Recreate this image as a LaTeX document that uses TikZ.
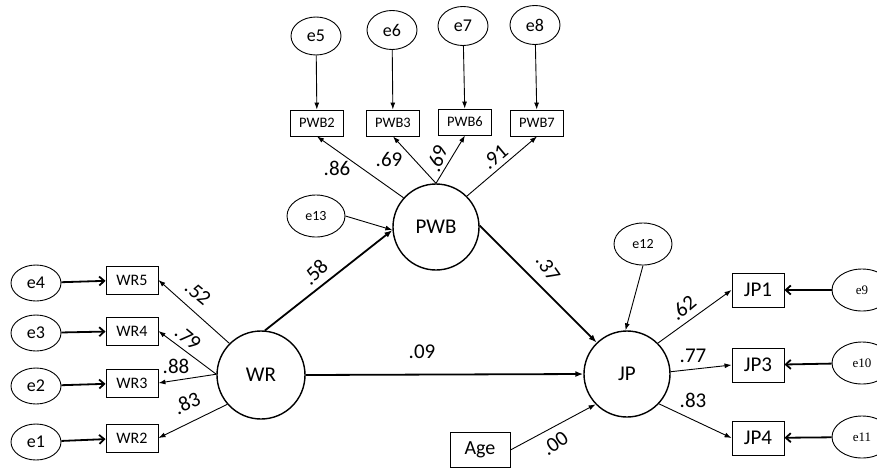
\documentclass[tikz,border=0pt]{standalone}
\usepackage{fontspec}
\setmainfont{Carlito}
\newfontfamily\serifE{Liberation Serif}
\usetikzlibrary{shapes.geometric,arrows.meta}
\begin{document}
\begin{tikzpicture}[x=1pt,y=-1pt,
  lat/.style={draw,circle,line width=1.4pt,minimum size=#1,inner sep=0pt,font=\fontsize{21}{21}\selectfont},
  obs/.style={draw,rectangle,line width=0.9pt,minimum width=52pt,minimum height=28pt,inner sep=0pt,font=\fontsize{16}{16}\selectfont},
  obsbig/.style={draw,rectangle,line width=0.9pt,minimum width=52pt,minimum height=34pt,inner sep=0pt,font=\fontsize{21}{21}\selectfont},
  obssm/.style={draw,rectangle,line width=0.9pt,minimum width=53pt,minimum height=26pt,inner sep=0pt,font=\fontsize{14.5}{14.5}\selectfont},
  err/.style={draw,ellipse,line width=0.9pt,minimum width=50pt,minimum height=36pt,inner sep=0pt,font=\fontsize{18}{18}\selectfont},
  errm/.style={draw,ellipse,line width=0.9pt,minimum width=58pt,minimum height=42pt,inner sep=0pt,font=\fontsize{14}{14}\selectfont},
  errs/.style={draw,ellipse,line width=0.9pt,minimum width=60pt,minimum height=42pt,inner sep=0pt,font=\serifE\fontsize{13}{13}\selectfont},
  coef/.style={font=\fontsize{21}{21}\selectfont,inner sep=0pt},
  thin/.style={line width=0.9pt,-{Latex[length=7pt,width=5pt]}},
  thick/.style={line width=1.8pt,-{Latex[length=8pt,width=6pt]}},
  open/.style={line width=1.8pt,-{Straight Barb[length=5pt,width=9pt]}}
]
\useasboundingbox (0,0) rectangle (877,469);
\clip (0,0) rectangle (877,469);
\fill[white] (0,0) rectangle (877,469);

% latent
\node[lat=88pt] (WR) at (261,375) {WR};
\node[lat=86pt] (PWB) at (436,227) {PWB};
\node[lat=86pt] (JP) at (627,374) {JP};

% WR indicators
\node[obs] (WR5) at (132,280) {WR5};
\node[obs] (WR4) at (132,331) {WR4};
\node[obs] (WR3) at (132,383) {WR3};
\node[obs] (WR2) at (132,438) {WR2};
\node[err] (e4) at (36,283) {e4};
\node[err] (e3) at (36,333) {e3};
\node[err] (e2) at (36,386) {e2};
\node[err] (e1) at (36,442) {e1};

% PWB indicators
\node[obssm] (PWB2) at (317,123) {PWB2};
\node[obssm] (PWB3) at (393,123) {PWB3};
\node[obssm] (PWB6) at (465,122) {PWB6};
\node[obssm] (PWB7) at (537,123) {PWB7};
\node[err,minimum height=38pt] (e5) at (316,36) {e5};
\node[err,minimum height=39pt] (e6) at (392,30) {e6};
\node[err,minimum height=39pt] (e7) at (463,26) {e7};
\node[err,minimum height=39pt] (e8) at (535,25) {e8};

\node[errm] (e13) at (316,216) {e13};
\node[errm] (e12) at (643,244) {e12};

% JP indicators
\node[obsbig] (JP1) at (758,290) {JP1};
\node[obsbig] (JP3) at (758,365) {JP3};
\node[obsbig] (JP4) at (758,438) {JP4};
\node[errs] (e9) at (862,290) {e9};
\node[errs] (e10) at (862,363) {e10};
\node[errs] (e11) at (862,437) {e11};

\node[obsbig,minimum width=60pt,minimum height=35pt,font=\fontsize{20}{20}\selectfont] (Age) at (480,450) {Age};

% error arrows
\draw[open] (e4) -- (WR5);
\draw[open] (e3) -- (WR4);
\draw[open] (e2) -- (WR3);
\draw[open] (e1) -- (WR2);
\draw[open] (e9) -- (JP1);
\draw[open] (e10) -- (JP3);
\draw[open] (e11) -- (JP4);
\draw[thin] (e5) -- (PWB2);
\draw[thin] (e6) -- (PWB3);
\draw[thin] (e7) -- (PWB6);
\draw[thin] (e8) -- (PWB7);
\draw[thin] (e13.east) -- (PWB.184);
\draw[thin] (e12.south) -- (JP.92);

% loadings
\draw[thin] (WR.135) -- (WR5.east);
\draw[thin] (WR.179) -- (WR4.east);
\draw[thin] (WR.179) -- (WR3.east);
\draw[thin] (WR.221) -- (WR2.east);
\draw[thin] (PWB.138) -- (PWB2.south);
\draw[thin] (PWB.90) -- (PWB3.south);
\draw[thin] (PWB.90) -- (PWB6.south);
\draw[thin] (PWB.45) -- (PWB7.south);
\draw[thin] (JP.45) -- (JP1.west);
\draw[thin] (JP.3) -- (JP3.west);
\draw[thin] (JP.-43) -- (JP4.west);

% structural
\draw[thick] (WR.85) -- (PWB.184);
\draw[thick] (PWB.2) -- (JP.134);
\draw[thick] (WR.0) -- (JP.180);
\draw[thin] (Age.east) -- (JP.224);

% coefficients
\node[coef,rotate=45] at (315,272) {.58};
\node[coef] at (422,352) {.09};
\node[coef,rotate=-55] at (548,268) {.37};
\node[coef,rotate=-40] at (198,293) {.52};
\node[coef,rotate=-40] at (188,338) {.79};
\node[coef] at (176,366) {.88};
\node[coef,rotate=25] at (187,403) {.83};
\node[coef] at (337,168) {.86};
\node[coef] at (389,159) {.69};
\node[coef,rotate=70] at (437,159) {.69};
\node[coef,rotate=40] at (495,157) {.91};
\node[coef,rotate=40] at (683,308) {.62};
\node[coef] at (693,356) {.77};
\node[coef] at (693,400) {.83};
\node[coef,rotate=35] at (555,443) {.00};
\end{tikzpicture}
\end{document}
